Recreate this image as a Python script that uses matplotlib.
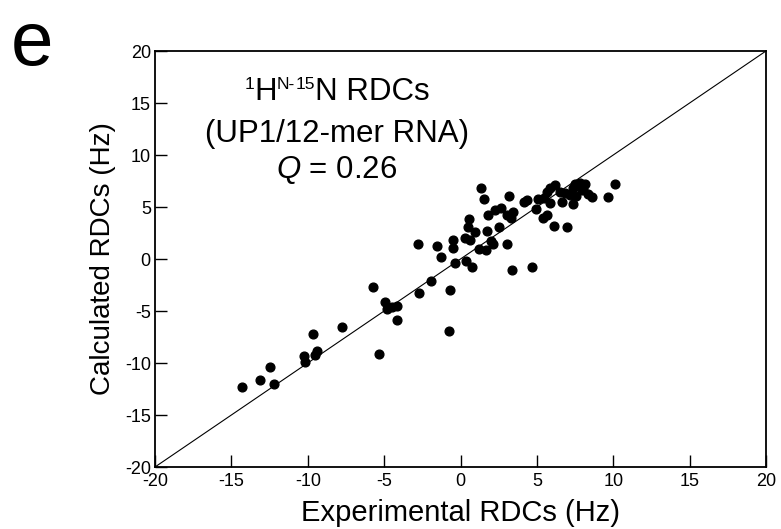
import matplotlib
matplotlib.use("Agg")
from matplotlib import pyplot as plt

plt.rcParams['font.family'] = ['Liberation Sans', 'DejaVu Sans']
plt.rcParams['mathtext.fontset'] = 'custom'
plt.rcParams['mathtext.rm'] = 'Liberation Sans'
plt.rcParams['mathtext.it'] = 'Liberation Sans:italic'
plt.rcParams['axes.unicode_minus'] = False

# experimental vs calculated 1H-15N RDCs (Hz)
exp_rdc = [-14.30, -13.15, -12.23, -12.47, -9.66, -10.22, -10.16, -9.55, -9.41, -7.76,
           -5.34, -5.71, -4.96, -4.79, -4.51, -4.18, -4.16, -2.80, -1.92, -2.69,
           -0.69, -0.73, -1.54, -1.28, -0.49, -0.49, -0.39, 0.36, 0.77, 0.31,
           0.62, 0.47, 0.56, 0.97, 1.18, 1.67, 1.74, 1.99, 2.10, 2.52,
           3.06, 3.39, 1.34, 1.54, 1.80, 2.28, 2.67, 3.02, 3.28, 3.46,
           3.15, 4.16, 4.33, 4.70, 4.94, 5.10, 5.47, 5.64, 5.86, 6.17,
           5.86, 5.42, 5.64, 6.14, 6.95, 6.64, 6.51, 6.84, 7.17, 7.34,
           7.50, 7.38, 7.82, 8.15, 7.93, 7.56, 8.04, 8.36, 8.62, 9.63,
           10.09]
calc_rdc = [-12.28, -11.66, -11.98, -10.38, -7.24, -9.35, -9.90, -9.20, -8.80, -6.51,
            -9.13, -2.69, -4.13, -4.84, -4.65, -4.52, -5.84, 1.45, -2.10, -3.30,
            -2.95, -6.88, 1.28, 0.16, 1.83, 1.03, -0.38, -0.19, -0.77, 2.05,
            1.83, 3.11, 3.85, 2.57, 0.96, 0.87, 2.69, 1.73, 1.44, 3.04,
            1.41, -1.09, 6.80, 5.74, 4.23, 4.71, 4.93, 4.23, 3.91, 4.55,
            6.09, 5.51, 5.67, -0.74, 4.81, 5.74, 5.83, 6.47, 6.80, 7.12,
            5.35, 3.91, 4.23, 3.21, 3.04, 5.51, 6.47, 6.38, 6.12, 5.29,
            7.21, 6.80, 7.28, 7.18, 6.63, 6.06, 6.70, 6.25, 5.99, 5.93,
            7.18]
lims = [-20, 20]
ticks = [-20, -15, -10, -5, 0, 5, 10, 15, 20]

W, H = 781, 529
fig = plt.figure(figsize=(W/100, H/100), dpi=100)
ax = fig.add_axes([155/W, 1-467/H, (766-155)/W, (467-51)/H])

# y = x reference line
ax.plot(lims, lims, color='black', lw=0.8, zorder=1)
ax.plot(exp_rdc, calc_rdc, 'o', color='black', ms=6.3, zorder=2)

ax.set_xlim(lims)
ax.set_ylim(lims)
ax.set_xticks(ticks)
ax.set_yticks(ticks)
ax.tick_params(direction='in', length=8.5, width=1, top=False, right=False,
               labelsize=13, pad=3)
ax.tick_params(axis='x', pad=4)
for s in ax.spines.values():
    s.set_linewidth(1.3)

ax.set_xlabel("Experimental RDCs (Hz)", fontsize=21, labelpad=7)
ax.set_ylabel("Calculated RDCs (Hz)", fontsize=20, labelpad=6)

# first annotation line: pieces with small raised superscripts
big, small = 22.5, 12.5
runs = [("1", small, 89), ("H", big, 100), ("N-", small, 89), ("15", small, 89),
        ("N RDCs", big, 100)]
renderer = fig.canvas.get_renderer()
pieces = []
for s, fs, base in runs:
    t = fig.text(0, 1 - base/H, s, fontsize=fs, va='baseline', ha='left')
    pieces.append(t)
widths = [t.get_window_extent(renderer).width for t in pieces]
x0 = 337 - sum(widths)/2
for t, w in zip(pieces, widths):
    t.set_x(x0/W)
    x0 += w

fig.text(337/W, 1-142/H, "(UP1/12-mer RNA)", fontsize=big, ha='center', va='baseline')
fig.text(337/W, 1-178/H, r"$Q$ = 0.26", fontsize=big, ha='center', va='baseline')

fig.text(32/W, 1-65/H, "e", fontsize=55, ha='center', va='baseline')

fig.savefig("out.png", dpi=100)
